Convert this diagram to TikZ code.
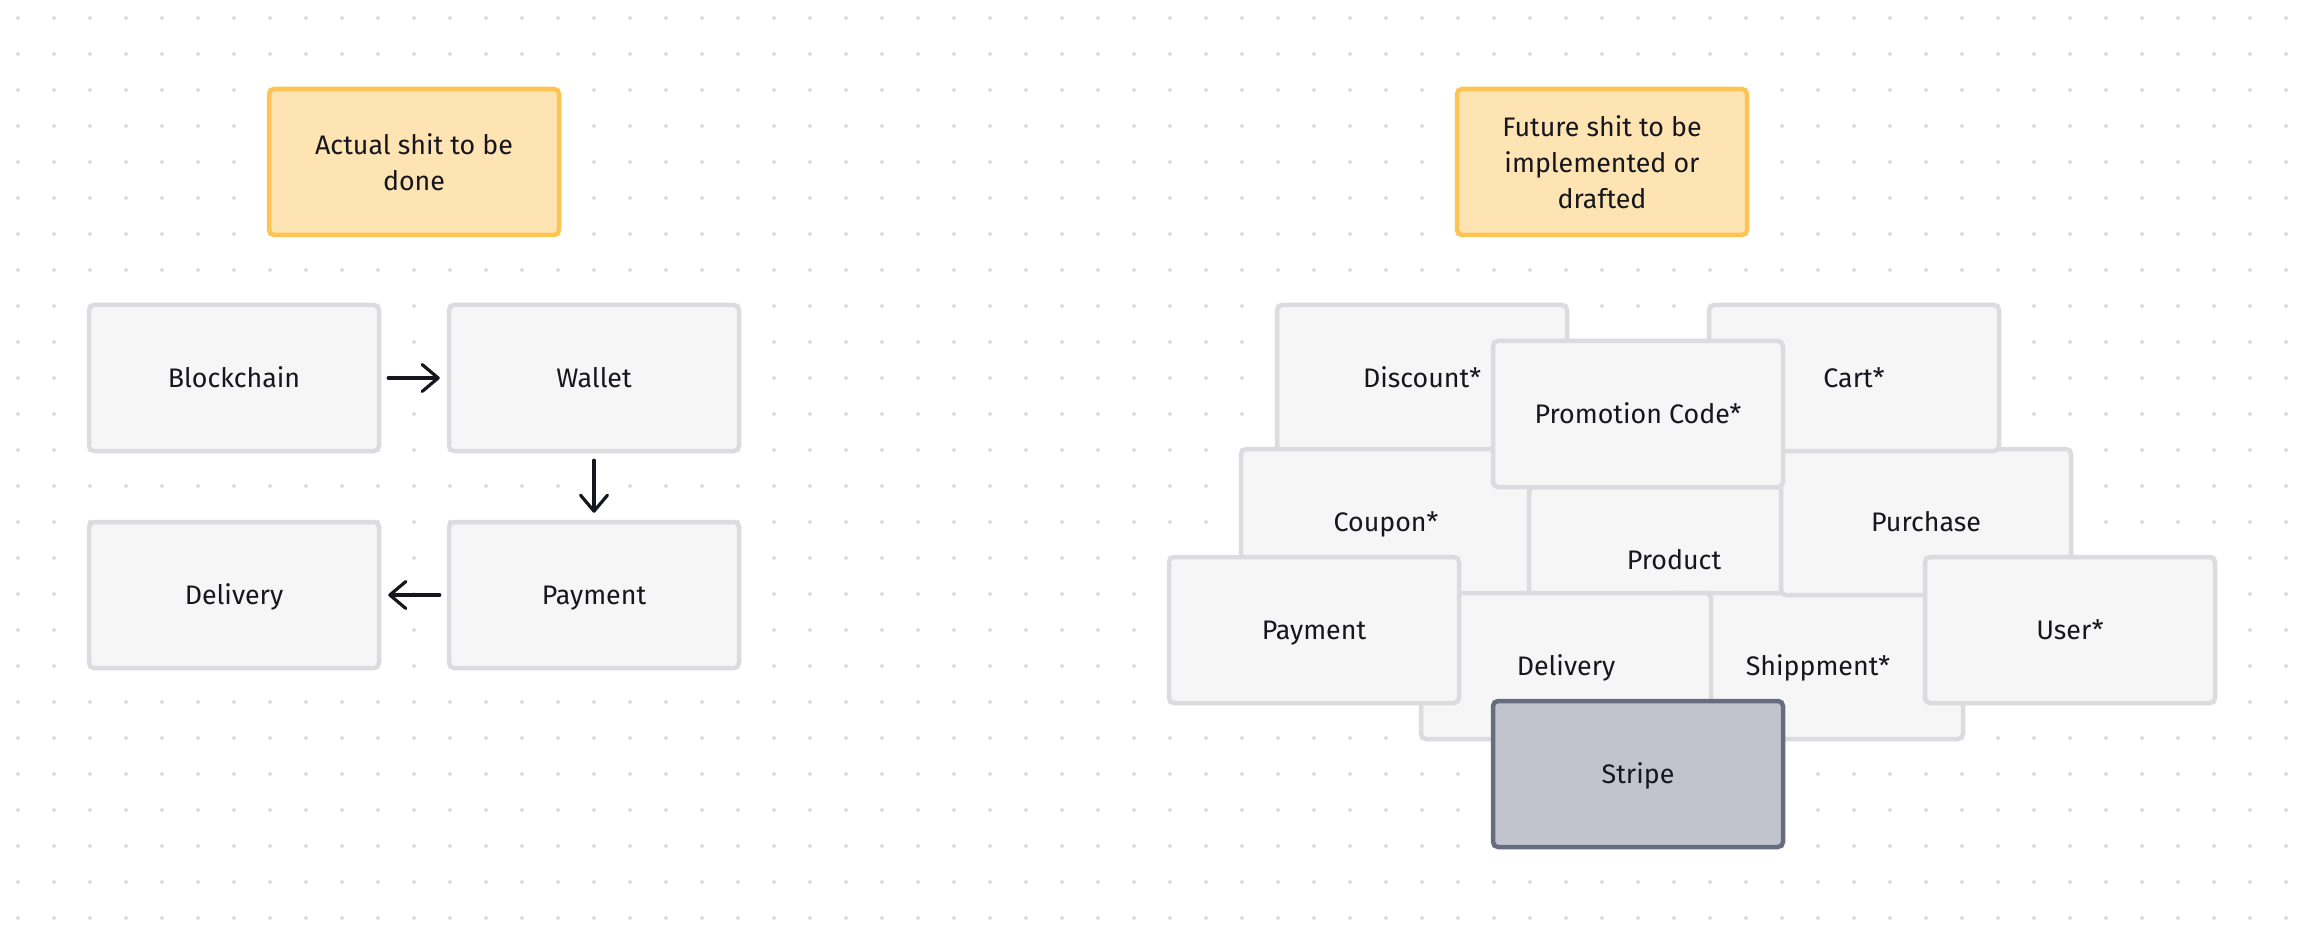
\documentclass[tikz,border=0pt]{standalone}
\usepackage{fontspec}
\setmainfont{Fira Sans}
\usetikzlibrary{arrows.meta}
\definecolor{boxfill}{HTML}{F6F6F6}
\definecolor{boxline}{HTML}{DBDBE0}
\definecolor{notefill}{HTML}{FFE4B3}
\definecolor{noteline}{HTML}{FEC352}
\definecolor{stripefill}{HTML}{C1C4CD}
\definecolor{stripeline}{HTML}{656D7F}
\definecolor{ink}{HTML}{16161E}
\definecolor{dotc}{HTML}{DCDCDC}
\begin{document}
\begin{tikzpicture}[x=0.5pt,y=-0.5pt,
  base/.style={line width=2.25pt, rounded corners=2.5pt,
    minimum width=145pt, minimum height=73pt, inner sep=0pt,
    font=\fontsize{13.4pt}{18pt}\selectfont, text=ink, align=center},
  card/.style={base, draw=boxline, fill=boxfill, text height=11.1pt, text depth=1.9pt},
  note/.style={base, draw=noteline, fill=notefill},
  stripebox/.style={card, draw=stripeline, fill=stripefill},
  arr/.style={draw=ink, line width=1.6pt, line cap=round,
    -{Straight Barb[length=8pt,width=13.5pt,round]}, shorten <=3.5pt, shorten >=3.5pt}
]
\useasboundingbox (0,0) rectangle (2304,936);
\foreach \i in {0,...,63} \foreach \j in {0,...,25}
  \fill[dotc] (18+36*\i, 18+36*\j) circle[radius=1pt];

% notes
\node[note] (n1) at (414,162) {Actual shit to be\\done};
\node[note] (n2) at (1602,162) {Future shit to be\\implemented or\\drafted};

% left flow
\node[card] (bc) at (234,378) {Blockchain};
\node[card] (wal) at (594,378) {Wallet};
\node[card] (delL) at (234,595) {Delivery};
\node[card] (payL) at (594,595) {Payment};
\draw[arr] (bc) -- (wal);
\draw[arr] (wal) -- (payL);
\draw[arr] (payL) -- (delL);

% right cluster (drawing order matters)
\node[card] (disc) at (1422,378) {Discount*};
\node[card] (coup) at (1386,522) {Coupon*};
\node[card] (prod) at (1674,560) {Product};
\node[card] (ship) at (1818,666) {Shippment*};
\node[card] (purch) at (1926,522) {Purchase};
\node[card] (cart) at (1854,378) {Cart*};
\node[card] (promo) at (1638,414) {Promotion Code*};
\node[card] (delR) at (1566,666) {Delivery};
\node[card] (payR) at (1314,630) {Payment};
\node[card] (user) at (2070,630) {User*};
\node[stripebox] (stripe) at (1638,774) {Stripe};
\end{tikzpicture}
\end{document}
